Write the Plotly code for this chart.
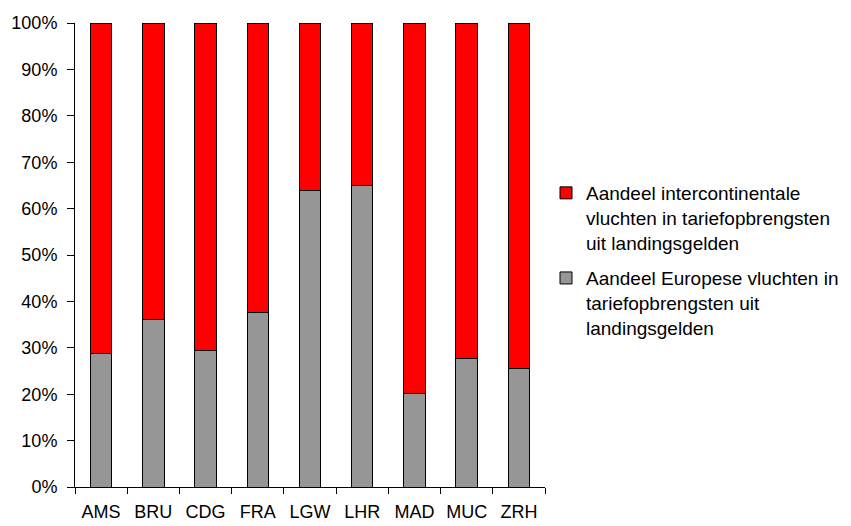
import plotly.graph_objects as go

airports = ["AMS", "BRU", "CDG", "FRA", "LGW", "LHR", "MAD", "MUC", "ZRH"]
europees = [28.8, 36.1, 29.5, 37.6, 63.9, 65.0, 20.1, 27.8, 25.5]
intercontinentaal = [71.2, 63.9, 70.5, 62.4, 36.1, 35.0, 79.9, 72.2, 74.5]
y_ticks = [0, 10, 20, 30, 40, 50, 60, 70, 80, 90, 100]
y_tick_labels = [f"{v}%" for v in y_ticks]

name_eu = "Aandeel Europese vluchten in<br>tariefopbrengsten uit<br>landingsgelden"
name_ic = "Aandeel intercontinentale<br>vluchten in tariefopbrengsten<br>uit landingsgelden"

FONT = "Liberation Sans, Arial, sans-serif"

fig = go.Figure()
fig.add_trace(go.Bar(
    x=airports, y=europees, name=name_eu, legendgroup="eu", legendrank=2,
    marker=dict(color="#969696", line=dict(color="black", width=1)),
))
fig.add_trace(go.Bar(
    x=airports, y=intercontinentaal, name=name_ic, legendgroup="ic", legendrank=1,
    marker=dict(color="#FF0000", line=dict(color="black", width=1)),
))

fig.update_layout(
    width=851, height=526,
    barmode="stack",
    bargap=0.59,
    paper_bgcolor="white", plot_bgcolor="white",
    margin=dict(l=67, r=314, t=15, b=47, autoexpand=False),
    font=dict(family=FONT, size=18, color="black"),
    showlegend=True,
    legend=dict(
        traceorder="grouped",
        xref="container", yref="container",
        x=538/851, y=1 - 166/526,
        xanchor="left", yanchor="top",
        valign="top",
        font=dict(family=FONT, size=19, color="black"),
        tracegroupgap=8,
        bgcolor="rgba(0,0,0,0)",
    ),
    xaxis=dict(
        showline=True, linecolor="black", linewidth=1,
        ticks="outside", ticklen=6, tickcolor="black",
        tickson="boundaries", tickangle=0, automargin=False,
        showgrid=False, zeroline=False,
        tickfont=dict(family=FONT, size=18, color="black"),
        ticklabelstandoff=8,
    ),
    yaxis=dict(
        range=[0, 100], automargin=False,
        tickvals=y_ticks, ticktext=y_tick_labels,
        showline=True, linecolor="black", linewidth=1,
        ticks="outside", ticklen=7, tickcolor="black",
        showgrid=False, zeroline=False,
        tickfont=dict(family=FONT, size=18, color="black"),
        ticklabelstandoff=6,
    ),
)

fig.write_html("out.html")
